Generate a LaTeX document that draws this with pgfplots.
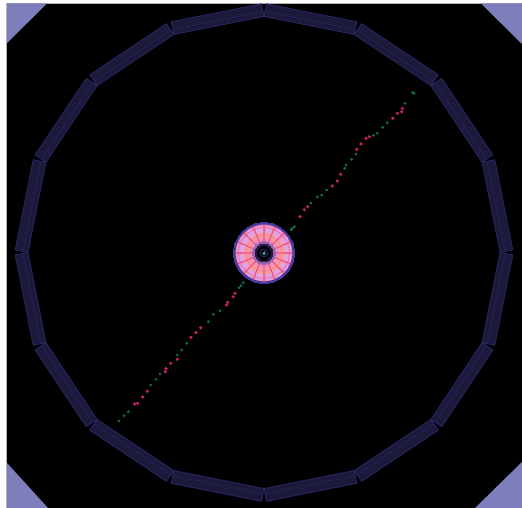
\documentclass[border=0pt]{standalone}
\usepackage{pgfplots}
\pgfplotsset{compat=1.18}
\definecolor{corner}{HTML}{7E7EBC}
\definecolor{segfill}{HTML}{1C1A3A}
\definecolor{segline}{HTML}{2C2566}
\definecolor{ringblue}{HTML}{4B3A9E}
\definecolor{lav}{HTML}{DDA4EC}
\definecolor{pinkbase}{HTML}{F18CBE}
\definecolor{orangepink}{HTML}{F99C9C}
\definecolor{spoke}{HTML}{EC4A80}
\definecolor{trackpink}{HTML}{C41F6C}
\definecolor{trackteal}{HTML}{0F6E5E}
% outer ring: inner corner, inner corner, outer corner, outer corner
\newcommand{\seg}[1]{\addplot[fill=segfill,draw=segline,line width=0.8pt,line join=round] coordinates {#1} -- cycle;}
\newcommand{\disc}[3]{\addplot[only marks,mark=*,mark size=#1,mark options={fill=#2,draw=#3,line width=0pt}] coordinates {(264,253)};}
\newcommand{\hoop}[3]{\addplot[only marks,mark=o,mark size=#1,mark options={draw=#2,line width=#3}] coordinates {(264,253)};}
\begin{document}
\begin{tikzpicture}
\begin{axis}[
  width=522bp, height=508bp, scale only axis,
  xmin=0, xmax=522, ymin=0, ymax=508,
  y dir=reverse, axis lines=none, clip=true,
  clip marker paths=true,
  unbounded coords=jump,
]
% frame
\addplot[fill=white,draw=none] coordinates {(0,0) (522,0) (522,508) (0,508)} -- cycle;
\addplot[fill=black,draw=none] coordinates {(7,3.5) (522,3.5) (522,508) (7,508)} -- cycle;
\addplot[draw=gray!60,line width=0.8pt] coordinates {(6.6,508) (6.6,3.1) (522,3.1)};
% corners
\addplot[fill=corner,draw=none] coordinates {(7,3.5) (47,3.5) (7,43)} -- cycle;
\addplot[fill=corner,draw=none] coordinates {(481,3.5) (522,3.5) (522,44)} -- cycle;
\addplot[fill=corner,draw=none] coordinates {(7,463) (48,508) (7,508)} -- cycle;
\addplot[fill=corner,draw=none] coordinates {(475,508) (522,462) (522,508)} -- cycle;
% 16 outer segments
\seg{(264,16.5) (354.3,34.5) (356.8,21.8) (266.5,3.8)}
\seg{(354.3,34.5) (430.9,85.6) (438.1,74.8) (361.5,23.7)}
\seg{(430.9,85.6) (482,162.2) (492.8,155) (441.7,78.4)}
\seg{(482,162.2) (500,252.5) (512.8,250) (494.8,159.7)}
\seg{(500,252.5) (482,342.8) (494.8,345.3) (512.8,255)}
\seg{(482,342.8) (430.9,419.4) (441.7,426.6) (492.8,350)}
\seg{(430.9,419.4) (354.3,470.5) (361.5,481.3) (438.1,430.2)}
\seg{(354.3,470.5) (264,488.5) (266.5,501.3) (356.8,483.3)}
\seg{(264,488.5) (173.7,470.5) (171.2,483.3) (261.5,501.3)}
\seg{(173.7,470.5) (97.1,419.4) (89.9,430.2) (166.5,481.3)}
\seg{(97.1,419.4) (46,342.8) (35.2,350) (86.3,426.6)}
\seg{(46,342.8) (28,252.5) (15.2,255) (33.2,345.3)}
\seg{(28,252.5) (46,162.2) (33.2,159.7) (15.2,250)}
\seg{(46,162.2) (97.1,85.6) (86.3,78.4) (35.2,155)}
\seg{(97.1,85.6) (173.7,34.5) (166.5,23.7) (89.9,74.8)}
\seg{(173.7,34.5) (264,16.5) (261.5,3.8) (171.2,21.8)}
% lighter line along each segment
\addplot[draw=segline,line width=0.7pt,opacity=0.7] coordinates {
(265,11.4) (355.3,29.4) (nan,nan) (357.2,30.2) (433.8,81.3) (nan,nan) (435.2,82.7) (486.3,159.3) (nan,nan)
(487.1,161.2) (505.1,251.5) (nan,nan) (505.1,253.5) (487.1,343.8) (nan,nan) (486.3,345.7) (435.2,422.3) (nan,nan)
(433.8,423.7) (357.2,474.8) (nan,nan) (355.3,475.6) (265,493.6) (nan,nan) (263,493.6) (172.7,475.6) (nan,nan)
(170.8,474.8) (94.2,423.7) (nan,nan) (92.8,422.3) (41.7,345.7) (nan,nan) (40.9,343.8) (22.9,253.5) (nan,nan)
(22.9,251.5) (40.9,161.2) (nan,nan) (41.7,159.3) (92.8,82.7) (nan,nan) (94.2,81.3) (170.8,30.2) (nan,nan)
(172.7,29.4) (263,11.4)};
% inner detector
\disc{30.5}{ringblue}{ringblue}
\disc{28.5}{pinkbase}{pinkbase}
\hoop{18.5}{orangepink}{7pt}
% lavender blocks
\addplot[only marks,mark=square*,mark size=2.8,mark options={fill=lav,draw=lav}] coordinates {
(268.7,229.5) (277.3,233) (284,239.7) (287.5,248.3) (287.5,257.7) (284,266.3) (277.3,273) (268.7,276.5)
(259.3,276.5) (250.7,273) (244,266.3) (240.5,257.7) (240.5,248.3) (244,239.7) (250.7,233) (259.3,229.5)};
\hoop{25.5}{spoke!80}{0.8pt}
\hoop{18}{spoke!70}{0.7pt}
% spokes
\addplot[draw=spoke,line width=1.1pt,opacity=0.85] coordinates {
(264,242) (264,224) (nan,nan) (268.2,242.8) (275.1,226.2) (nan,nan) (271.8,245.2) (284.5,232.5) (nan,nan)
(274.2,248.8) (290.8,241.9) (nan,nan) (275,253) (293,253) (nan,nan) (274.2,257.2) (290.8,264.1) (nan,nan)
(271.8,260.8) (284.5,273.5) (nan,nan) (268.2,263.2) (275.1,279.8) (nan,nan) (264,264) (264,282) (nan,nan)
(259.8,263.2) (252.9,279.8) (nan,nan) (256.2,260.8) (243.5,273.5) (nan,nan) (253.8,257.2) (237.2,264.1) (nan,nan)
(253,253) (235,253) (nan,nan) (253.8,248.8) (237.2,241.9) (nan,nan) (256.2,245.2) (243.5,232.5) (nan,nan)
(259.8,242.8) (252.9,226.2)};
\hoop{29.5}{ringblue}{2pt}
% beam pipe and innermost layers
\disc{11.5}{pinkbase!50!ringblue}{pinkbase!50!ringblue}
\disc{9}{black!55!ringblue}{black!55!ringblue}
\disc{6.5}{black}{black}
\hoop{3.8}{ringblue!60!black}{1.1pt}
\disc{1.5}{trackteal!80!white}{trackteal!80!white}
% track hits
\addplot[only marks,mark=*,mark size=1.3,mark options={fill=trackteal,draw=trackteal,line width=0.2pt}] coordinates {
(412.7,92.7) (414,93.3) (405,103.3) (387.3,122.7) (382.7,127.3) (377.3,133.3) (373.3,135.3) (356,154)
(351.7,159.3) (346,165) (344.7,168.3) (326.7,190) (321.7,195) (317.3,197) (311,203) (294.3,226.7) (292.3,228.3) (291,230)
(243.3,282.7) (241,285.7) (239,287.7) (220,310.7) (213.3,314.3) (208.3,321.7) (186.7,343.3) (181.7,350) (177.3,355)
(160,374) (156,379.3) (150.7,385) (128.3,411.7) (124,415.7) (119,421)};
\addplot[only marks,mark=*,mark size=1.6,mark options={fill=trackpink,draw=trackpink,line width=0.2pt}] coordinates {
(402.3,108.3) (401.7,111.7) (397.3,113.3) (392.7,118.3) (369.3,136.7) (366,138.3) (361,144) (356.7,149.3)
(340.7,174.3) (337.3,181) (332.3,186) (307.7,206.7) (304.3,209.7) (300,216.7)
(235,293.3) (233.3,296.7) (227.7,302.3) (226.7,305) (200.7,327.7) (196,332.7) (191,337.3)
(177.3,359.3) (170.7,363.3) (166,368.7) (165.3,371.7) (147.3,391.3) (142.7,397) (137.7,403.3) (134.7,404)};
\end{axis}
\end{tikzpicture}
\end{document}
